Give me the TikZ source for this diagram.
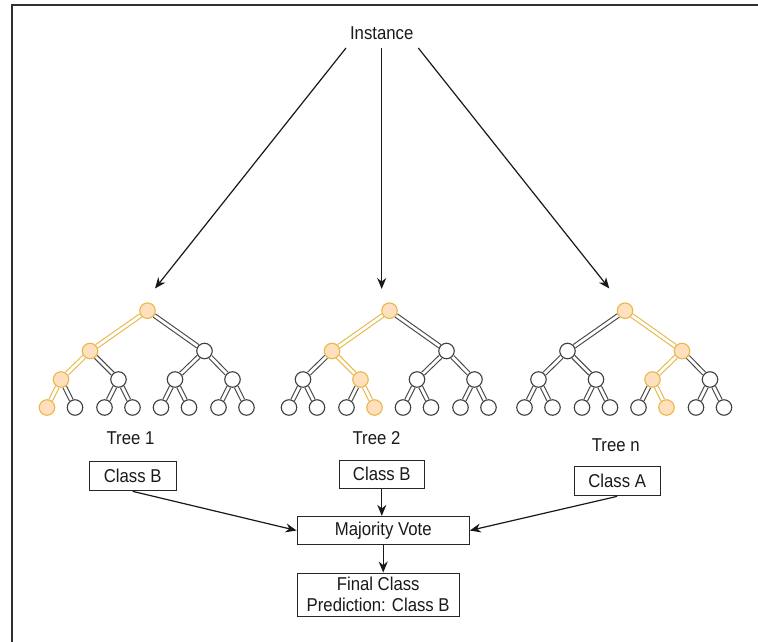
\documentclass[tikz,border=0pt]{standalone}
\usepackage{fontspec}
\setmainfont{Liberation Sans}[FakeStretch=0.9]
\usetikzlibrary{arrows.meta,calc,backgrounds}

\definecolor{hlline}{HTML}{E8B84A}
\definecolor{hlfill}{HTML}{FFDFBD}
\definecolor{framegray}{HTML}{303030}

\tikzset{
  lbl/.style={font=\fontsize{18.6}{21}\selectfont, inner sep=0pt, text=black!90},
  box/.style={lbl, draw=black!85, line width=1.3pt, align=center},
  treenode/.style={circle, draw=black!75, fill=white, line width=1.1pt,
                   minimum size=15.5pt, inner sep=0pt},
  hlnode/.style={treenode, draw=hlline, fill=hlfill},
  treeedge/.style={draw=black!72, line width=1.1pt, double=white, double distance=2.8pt},
  hledge/.style={treeedge, draw=hlline},
  arr/.style={-{Stealth[length=11pt,width=9pt]}, line width=1.2pt, black!90},
}

% #1 name prefix, #2 root x, #3/#4/#5 highlighted nodes on levels 2, 3 and 4
% (heap numbering: node i has children 2i and 2i+1)
\newcommand\rftree[5]{%
  \foreach \i/\dx/\dy in {1/0/310.7, 2/-57.5/351, 3/57/351,
      4/-86.5/379.5, 5/-29/379.5, 6/27.5/379.5, 7/85/379.5,
      8/-100.5/407.5, 9/-72.5/407.5, 10/-43/407.5, 11/-15/407.5,
      12/13.5/407.5, 13/41.5/407.5, 14/71/407.5, 15/99/407.5}{%
    \def\onpath{0}%
    \ifnum\i=1 \def\onpath{1}\fi
    \ifnum\i=#3 \def\onpath{1}\fi
    \ifnum\i=#4 \def\onpath{1}\fi
    \ifnum\i=#5 \def\onpath{1}\fi
    \ifnum\onpath=1
      \node[hlnode] (#1-\i) at ({#2+\dx},\dy) {};
    \else
      \node[treenode] (#1-\i) at ({#2+\dx},\dy) {};
    \fi
  }%
  \begin{pgfonlayer}{background}
    \foreach \c in {2,...,15}{%
      \pgfmathtruncatemacro\p{\c/2}%
      \def\onpath{0}%
      \ifnum\c=#3 \def\onpath{1}\fi
      \ifnum\c=#4 \def\onpath{1}\fi
      \ifnum\c=#5 \def\onpath{1}\fi
      \ifnum\onpath=1
        \draw[hledge] (#1-\p) -- (#1-\c);
      \else
        \draw[treeedge] (#1-\p) -- (#1-\c);
      \fi
    }%
  \end{pgfonlayer}%
}

\begin{document}
\begin{tikzpicture}[x=1pt, y=-1pt]
  \useasboundingbox (0,0) rectangle (758,642);
  \begin{pgfonlayer}{background}
    \fill[white] (0,0) rectangle (758,642);
  \end{pgfonlayer}

  % frame on the top and left
  \draw[framegray, line width=2pt] (12,642) -- (12,5.5) -- (758,5.5);

  % input
  \node[lbl, anchor=base] (inst) at (381.7,40) {Instance};
  \coordinate (i1) at ($(inst.base)+(-35.7,8)$);
  \coordinate (i2) at ($(inst.base)+(0,8)$);
  \coordinate (i3) at ($(inst.base)+(36.6,8)$);
  \coordinate (tip1) at (155,288.5);
  \coordinate (tip2) at (381.7,289);
  \coordinate (tip3) at (609.3,288.5);
  \draw[arr] (i1) -- (tip1);
  \draw[arr] (i2) -- (tip2);
  \draw[arr] (i3) -- (tip3);

  % the decision trees
  \rftree{ta}{147.5}{2}{4}{8}
  \rftree{tb}{389.5}{2}{5}{11}
  \rftree{tn}{625}{3}{6}{13}

  \node[lbl] (lt1) at (130.5,438) {Tree 1};
  \node[lbl] (lt2) at (376.5,438) {Tree 2};
  \node[lbl] (ltn) at (615.7,445) {Tree n};

  % votes
  \node[box, minimum width=87pt, minimum height=29pt] (c1) at (132.7,476.2) {Class B};
  \node[box, minimum width=85pt, minimum height=28pt] (c2) at (381.8,474.2) {Class B};
  \node[box, minimum width=86pt, minimum height=29pt] (cn) at (617.2,481.2) {Class A};

  \node[box, minimum width=172pt, minimum height=28pt] (mv) at (383.2,530.5) {Majority Vote};
  \node[box, minimum width=162pt, minimum height=43pt] (fin) at (378.2,594.7)
       {Final Class\\Prediction: Class B};

  \draw[arr] (c1.south) -- (mv.west);
  \draw[arr] (c2.south) -- (c2.south |- mv.north);
  \draw[arr] (cn.south) -- (mv.east);
  \draw[arr] (mv.south) -- (mv.south |- fin.north);
\end{tikzpicture}
\end{document}
